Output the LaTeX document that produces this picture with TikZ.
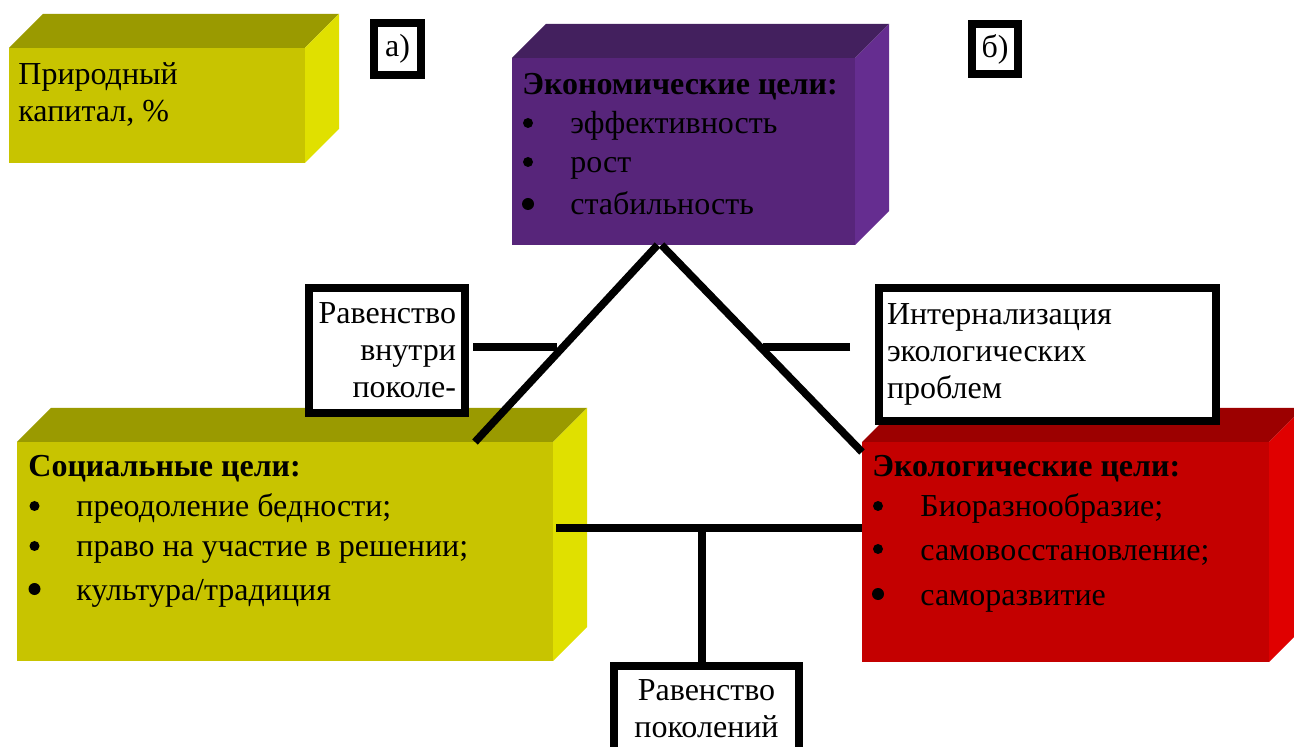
\documentclass[tikz,border=0pt]{standalone}
\usepackage{fontspec}
\setmainfont{Liberation Serif}
\usetikzlibrary{calc}
\definecolor{natF}{HTML}{C8C400}
\definecolor{natT}{HTML}{9A9A00}
\definecolor{natS}{HTML}{E0E000}
\definecolor{ecnF}{HTML}{57257A}
\definecolor{ecnT}{HTML}{43205E}
\definecolor{ecnS}{HTML}{652D90}
\definecolor{eclF}{HTML}{C40000}
\definecolor{eclT}{HTML}{9C0000}
\definecolor{eclS}{HTML}{E00000}

\begin{document}
\begin{tikzpicture}[
  x=0.5pt, y=-0.5pt,
  face/.style={inner sep=0pt, outer sep=0pt},
  frame/.style={draw, line width=4pt, fill=white, inner sep=0pt,
                font=\fontsize{16}{18.5}\selectfont},
  link/.style={line width=3.8pt},
  hd/.style={anchor=base west, inner sep=0pt, font=\fontsize{16}{18.5}\selectfont\bfseries},
  itm/.style={anchor=base west, inner sep=0pt, font=\fontsize{16}{18.5}\selectfont},
  dot/.style={circle, fill=black, inner sep=0pt, minimum size=5pt},
  bigdot/.style={dot, minimum size=6pt},
]
\useasboundingbox (0,0) rectangle (1294,747);
\clip (0,0) rectangle (1294,747);

% boxes: front face, then top and side
\foreach \n/\col/\x/\y/\w/\h in {nat/nat/157/105.5/148/57.5, ecn/ecn/683.5/151.5/171.5/93.5,
                                 soc/nat/285/551.5/268/109.5, ecl/ecl/1065.5/552/203.5/110}{
  \node[face, fill=\col F, minimum width=\w pt, minimum height=\h pt] (\n) at (\x,\y) {};
  \fill[\col T] (\n.north west) -- ++(34,-34) -- ([shift={(34,-34)}]\n.north east) -- (\n.north east) -- cycle;
  \fill[\col S] (\n.north east) -- ++(34,-34) -- ([shift={(34,-34)}]\n.south east) -- (\n.south east) -- cycle;
}

\node[itm] (natL1) at (18,85) {Природный};
\node[itm] (natL2) at (18,122) {капитал, \%};

\node[hd] (ecnH) at (522,95) {Экономические цели:};
\foreach \t/\yy/\i/\d in {эффективность/134/1/dot, рост/173/2/dot, стабильность/215/3/bigdot}{
  \node[\d] (ecnB\i) at (528,\yy-11) {};
  \node[itm] (ecnI\i) at (570,\yy) {\t};
}

\node[hd] (socH) at (28,477) {Социальные цели:};
\foreach \t/\yy/\i/\d in {преодоление бедности;/517/1/dot, право на участие в решении;/557/2/dot,
                          {культура/традиция}/600/3/bigdot}{
  \node[\d] (socB\i) at (34.5,\yy-11) {};
  \node[itm] (socI\i) at (76,\yy) {\t};
}

\node[hd] (eclH) at (872,477) {Экологические цели:};
\foreach \t/\yy/\i/\d in {Биоразнообразие;/517/1/dot, самовосстановление;/560/2/dot, саморазвитие/605/3/bigdot}{
  \node[\d] (eclB\i) at (878,\yy-11) {};
  \node[itm] (eclI\i) at (920,\yy) {\t};
}

% labels in frames
\node[frame, minimum width=23.5pt, minimum height=26pt] (tagA) at (397.5,49) {а)};
\node[frame, minimum width=23pt, minimum height=25pt] (tagB) at (995,49) {б)};
\node[frame, minimum width=78pt, minimum height=62.5pt, text width=69pt, align=right]
  (rib) at (387,350.5) {Равенство\\внутри\\поколе-};
\node[frame, minimum width=168.5pt, minimum height=66.5pt, text width=160.5pt, align=left]
  (intl) at (1047.5,354.5) {Интернализация\\экологических\\проблем};
\node[frame, minimum width=92.5pt, minimum height=42.5pt, anchor=north, align=center]
  (rgen) at (706.5,662) {Равенство\\поколений};

% connectors
\draw[link] ([xshift=-13pt]ecn.south) -- ([xshift=95pt]soc.north);
\draw[link] ([xshift=-11pt]ecn.south) -- ([yshift=-5pt]ecl.north west);
\draw[link] ([shift={(2pt,1.75pt)}]rib.east) -- ++(42pt,0pt);
\draw[link] ([shift={(-12.5pt,3.75pt)}]intl.west) -- ++(-43.5pt,0pt);
\draw[link] ([shift={(1.5pt,11.75pt)}]soc.east) coordinate (bl) -- (bl -| ecl.west);
\draw[link] ([xshift=-2.25pt]rgen.north) -- ([xshift=-2.25pt]rgen.north |- bl);
\end{tikzpicture}
\end{document}
